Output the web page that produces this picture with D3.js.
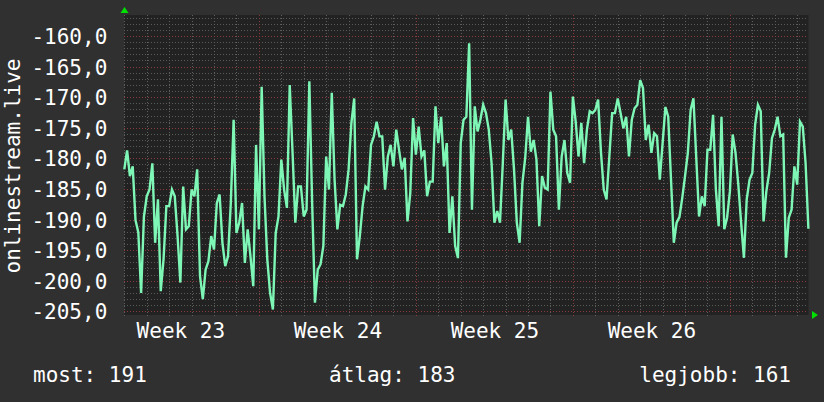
<!DOCTYPE html>
<html>
<head>
<meta charset="utf-8">
<script src="https://cdn.jsdelivr.net/npm/d3@7"></script>
<style>
  body { margin: 0; background: #303030; }
  svg { display: block; }
  text { font-family: "DejaVu Sans Mono", monospace; fill: #ffffff; font-size: 21px; }
</style>
</head>
<body>
<div id="graph"></div>
<script>
// one sample every 3 hours, starting Tuesday of week 23
var startDate = new Date(Date.UTC(2017, 5, 6));
var stepHours = 3;
var values = [
  -181.8, -178.7, -182.9, -181.3, -190.1, -192.1, -202.0, -189.5, -186.2, -185.1,
  -180.8, -193.8, -186.7, -201.7, -196.5, -187.8, -187.8, -185.1, -186.2, -192.7,
  -200.3, -184.6, -191.6, -191.1, -185.1, -186.2, -181.8, -199.2, -203.0, -198.2,
  -196.8, -192.7, -194.9, -187.3, -185.9, -193.8, -197.6, -196.0, -187.2, -173.7,
  -192.2, -190.5, -187.3, -197.1, -191.6, -196.0, -200.9, -177.8, -191.6, -168.3,
  -186.2, -196.5, -202.0, -204.7, -192.2, -189.5, -180.2, -185.1, -188.1, -168.0,
  -178.9, -190.5, -184.6, -184.6, -189.5, -188.4, -167.4, -187.3, -203.6, -198.2,
  -197.3, -194.3, -179.7, -185.1, -169.3, -183.5, -191.6, -187.6, -187.8, -185.9,
  -181.8, -174.2, -170.2, -196.5, -192.7, -187.8, -184.6, -185.1, -177.8, -176.4,
  -174.0, -176.4, -176.4, -185.1, -179.7, -177.8, -181.3, -175.3, -178.6, -181.8,
  -179.9, -190.3, -185.7, -173.4, -179.4, -174.8, -179.7, -178.7, -186.2, -183.8,
  -183.8, -171.5, -177.5, -173.2, -181.3, -177.5, -192.2, -186.2, -194.3, -196.3,
  -177.5, -173.7, -173.2, -161.2, -188.4, -171.5, -175.6, -173.7, -171.25, -172.6,
  -175.3, -180.8, -190.5, -188.6, -190.5, -180.8, -170.4, -177.0, -175.3, -181.8,
  -190.5, -193.8, -184.0, -179.9, -173.2, -178.9, -177.0, -180.2, -191.1, -182.9,
  -184.8, -185.1, -169.1, -175.3, -176.4, -188.4, -179.7, -177.0, -182.4, -184.0,
  -169.9, -174.0, -179.7, -174.2, -180.8, -175.3, -172.3, -172.6, -172.1, -170.4,
  -178.9, -185.1, -186.7, -179.7, -172.6, -172.6, -170.2, -172.6, -175.1, -173.2,
  -179.7, -173.7, -171.8, -171.25, -167.2, -168.5, -177.0, -174.5, -179.1, -175.9,
  -176.4, -183.5, -177.5, -171.6, -173.2, -183.5, -193.8, -190.5, -189.6, -186.5,
  -182.9, -179.1, -172.1, -170.2, -179.9, -189.5, -186.2, -187.8, -178.6, -178.6,
  -172.9, -185.1, -191.1, -173.2, -191.6, -189.7, -185.4, -176.1, -179.1, -184.3,
  -190.5, -196.25, -186.7, -183.5, -182.4, -174.5, -171.25, -172.3, -190.3, -185.4,
  -182.4, -176.7, -175.3, -173.2, -176.4, -176.1, -196.25, -189.7, -188.4, -181.3,
  -184.3, -174.0, -174.8, -180.8, -191.5
];
var yTicks = [-160, -165, -170, -175, -180, -185, -190, -195, -200, -205];
var weekStarts = [Date.UTC(2017, 5, 5), Date.UTC(2017, 5, 12), Date.UTC(2017, 5, 19), Date.UTC(2017, 5, 26)];
var weekLabels = ["Week 23", "Week 24", "Week 25", "Week 26"];
var legendLabels = ["most: 191", "átlag: 183", "legjobb: 161"];

var W = 824, H = 402;
var plot = {left: 124.3, right: 808.4, top: 15, bottom: 315};
var hour = 3600 * 1000;

var data = values.map(function(v, i) {
  return {t: new Date(startDate.getTime() + i * stepHours * hour), v: v};
});
var endDate = data[data.length - 1].t;

var x = d3.scaleUtc().domain([startDate, endDate]).range([plot.left, plot.right]);
var y = d3.scaleLinear().domain([-205.6, -156.57]).range([plot.bottom, plot.top]);

var svg = d3.select("#graph").append("svg")
  .attr("width", W)
  .attr("height", H);

svg.append("rect").attr("width", W).attr("height", H).attr("fill", "#303030");
svg.append("rect")
  .attr("x", plot.left).attr("y", plot.top)
  .attr("width", plot.right - plot.left).attr("height", plot.bottom - plot.top)
  .attr("fill", "#222222");

var grid = svg.append("g")
  .attr("fill", "none")
  .attr("stroke-dasharray", "1,2")
  .attr("shape-rendering", "crispEdges");

// minor horizontal grid, one per unit
grid.selectAll("line.hmin")
  .data(d3.range(-205, -156, 1).filter(function(d) { return yTicks.indexOf(d) < 0; }))
  .enter().append("line")
  .attr("x1", plot.left).attr("x2", plot.right)
  .attr("y1", function(d) { return Math.round(y(d)) + 0.5; })
  .attr("y2", function(d) { return Math.round(y(d)) + 0.5; })
  .attr("stroke", "#5a5a5a");

// vertical grid, one per day
var days = d3.utcDay.range(startDate, endDate);
grid.selectAll("line.vmin")
  .data(days.filter(function(d) { return d.getUTCDay() != 1; }))
  .enter().append("line")
  .attr("x1", function(d) { return Math.round(x(d)) + 0.5; })
  .attr("x2", function(d) { return Math.round(x(d)) + 0.5; })
  .attr("y1", plot.top).attr("y2", plot.bottom + 3)
  .attr("stroke", "#5e5e5e");

// major grid in red
grid.selectAll("line.hmaj")
  .data(yTicks)
  .enter().append("line")
  .attr("x1", plot.left).attr("x2", plot.right)
  .attr("y1", function(d) { return Math.round(y(d)) + 0.5; })
  .attr("y2", function(d) { return Math.round(y(d)) + 0.5; })
  .attr("stroke", "#8a3a3a");

grid.selectAll("line.vmaj")
  .data(days.filter(function(d) { return d.getUTCDay() == 1; }))
  .enter().append("line")
  .attr("x1", function(d) { return Math.round(x(d)) + 0.5; })
  .attr("x2", function(d) { return Math.round(x(d)) + 0.5; })
  .attr("y1", plot.top).attr("y2", plot.bottom + 3)
  .attr("stroke", "#8a3a3a");

// the data line
var line = d3.line()
  .x(function(d) { return x(d.t); })
  .y(function(d) { return y(d.v); });

svg.append("path")
  .datum(data)
  .attr("fill", "none")
  .attr("stroke", "#7ef7b6")
  .attr("stroke-width", 2.4)
  .attr("stroke-linejoin", "miter")
  .attr("d", line);

// y axis labels, comma decimals
var huFormat = d3.formatLocale({decimal: ",", thousands: " ", grouping: [3], currency: ["", ""], minus: "-"}).format(".1f");
svg.append("g")
  .attr("transform", "translate(" + (plot.left - 17) + ",0)")
  .call(d3.axisLeft(y).tickValues(yTicks).tickSize(0).tickPadding(0).tickFormat(huFormat))
  .call(function(g) { g.select(".domain").remove(); })
  .selectAll("text")
  .attr("font-size", "21px")
  .attr("fill", "#ffffff")
  .attr("dy", "0.36em");

// week labels centred on each week
var weekCentres = weekStarts.map(function(d) { return new Date(d + 3.5 * 24 * hour); });
svg.append("g")
  .attr("transform", "translate(0," + plot.bottom + ")")
  .call(d3.axisBottom(x).tickValues(weekCentres).tickSize(0).tickPadding(0)
    .tickFormat(function(d, i) { return weekLabels[i]; }))
  .call(function(g) { g.select(".domain").remove(); })
  .selectAll("text")
  .attr("font-size", "21px")
  .attr("fill", "#ffffff")
  .attr("y", 23)
  .attr("dy", 0);

// vertical title
svg.append("text")
  .attr("transform", "translate(20," + ((plot.top + plot.bottom) / 2 + 1) + ") rotate(-90)")
  .attr("text-anchor", "middle")
  .text("onlinestream.live");

// arrows
svg.append("path")
  .attr("d", "M120.5,13 L124.5,7 L128.5,13 Z")
  .attr("fill", "#00e000");
svg.append("path")
  .attr("d", "M812,311 L818,315 L812,319 Z")
  .attr("fill", "#00e000");

// legend line
svg.append("text").attr("x", 33).attr("y", 382).text(legendLabels[0]);
svg.append("text").attr("x", 329).attr("y", 382).text(legendLabels[1]);
svg.append("text").attr("x", 791).attr("y", 382).attr("text-anchor", "end").text(legendLabels[2]);
</script>
</body>
</html>
